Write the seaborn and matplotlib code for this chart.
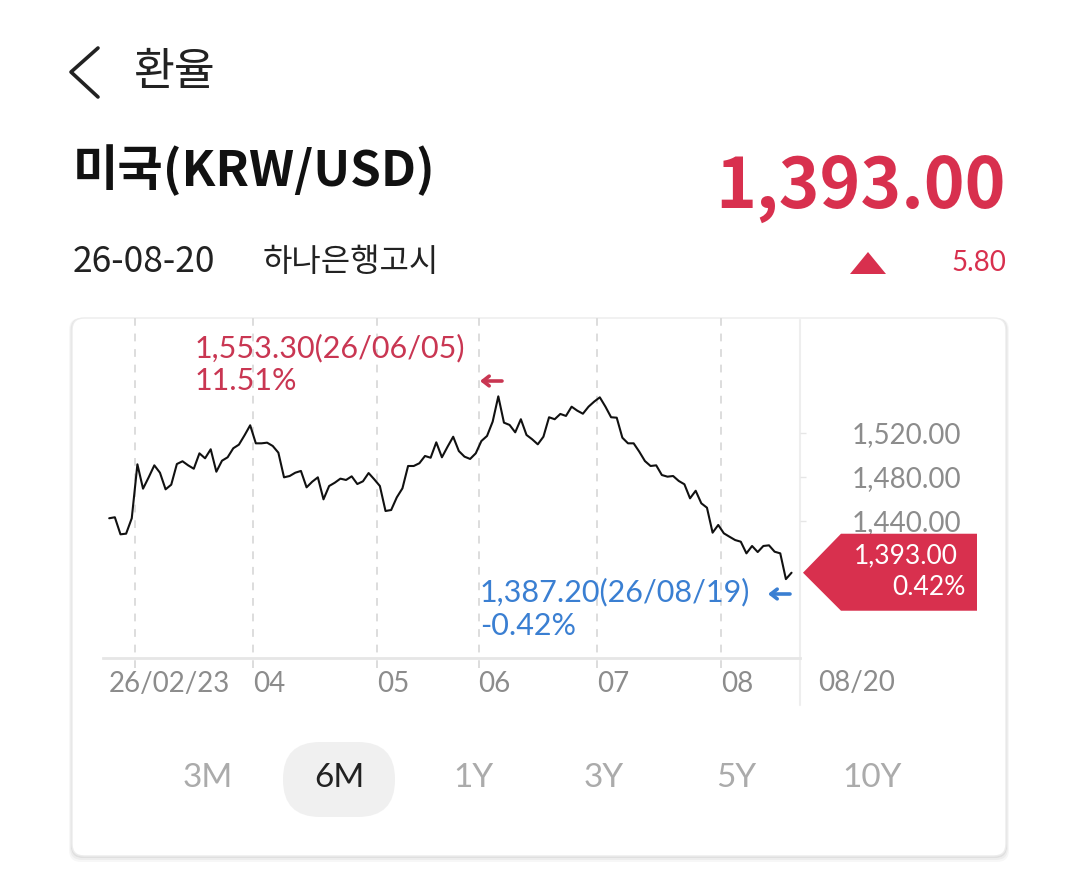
import matplotlib
matplotlib.use("Agg")
import matplotlib.pyplot as plt
from matplotlib.patches import FancyBboxPatch, Polygon
import numpy as np
import pandas as pd
import seaborn as sns

# KRW/USD daily rates, 26/02/23 .. 26/08/20 (trading-day index on x)
rates = [
    1442.5, 1443.4, 1427.9, 1428.5, 1442.5, 1491.5, 1469.4, 1479.7, 1490.6, 1483.9,
    1468.8, 1473.0, 1491.8, 1494.3, 1490.6, 1487.5, 1501.5, 1497.0, 1505.2, 1484.8,
    1494.8, 1497.9, 1506.1, 1509.4, 1517.9, 1527.0, 1510.6, 1510.6, 1511.2, 1508.2,
    1502.1, 1479.7, 1480.9, 1483.9, 1485.5, 1470.6, 1475.7, 1479.7, 1459.7, 1471.8,
    1474.8, 1478.5, 1477.3, 1480.6, 1473.6, 1476.1, 1483.6, 1477.9, 1471.8, 1449.1,
    1450.0, 1461.5, 1469.7, 1490.0, 1490.0, 1492.5, 1499.1, 1497.5, 1511.5, 1497.9,
    1507.5, 1516.6, 1503.6, 1498.5, 1496.4, 1501.5, 1512.7, 1517.3, 1530.3, 1553.3,
    1529.4, 1527.3, 1520.6, 1532.5, 1518.2, 1514.3, 1509.7, 1516.6, 1534.3, 1532.5,
    1537.3, 1535.5, 1543.9, 1540.3, 1537.5, 1543.9, 1548.5, 1552.4, 1543.9, 1534.3,
    1533.9, 1515.7, 1510.6, 1510.6, 1503.0, 1494.5, 1490.0, 1490.6, 1481.8, 1480.3,
    1480.9, 1476.4, 1473.4, 1460.6, 1467.5, 1456.1, 1452.1, 1429.4, 1436.4, 1428.8,
    1425.7, 1422.7, 1421.2, 1410.6, 1417.3, 1411.8, 1417.3, 1417.9, 1412.1, 1410.6,
    1387.2, 1393.0,
]
start_label = "26/02/23"
end_label = "08/20"
month_start_idx = [5, 26, 48, 66, 87, 109]      # first trading day of Mar..Aug
month_labels = ["", "04", "05", "06", "07", "08"]
peak_date = "26/06/05"
low_date = "26/08/19"
change = 5.80
yticks = [1440, 1480, 1520]
periods = ["3M", "6M", "1Y", "3Y", "5Y", "10Y"]
selected = "6M"

RED = "#d8304e"
RED_TXT = "#c93652"
BLUE = "#3a7fd2"
GREY_TXT = "#8c8c8c"

sns.set_style("white")
plt.rcParams["font.family"] = ["Lato", "Noto Sans CJK KR", "DejaVu Sans"]

W, H = 1079, 890
fig = plt.figure(figsize=(W / 100, H / 100), dpi=100)
fig.patch.set_facecolor("white")

# background / overlay layers in pixel units
bg = fig.add_axes([0, 0, 1, 1], zorder=0)
fg = fig.add_axes([0, 0, 1, 1], zorder=5)
for a in (bg, fg):
    a.set_xlim(0, W)
    a.set_ylim(H, 0)
    a.axis("off")
    a.patch.set_alpha(0)

# card with soft shadow
for off, alpha in [(6, 0.03), (4, 0.04), (2, 0.06)]:
    bg.add_patch(FancyBboxPatch((72 - off / 2, 318), 934 + off, 538 + off,
                                boxstyle="round,pad=0,rounding_size=12",
                                fc="black", ec="none", alpha=alpha))
bg.add_patch(FancyBboxPatch((72, 318), 934, 538, boxstyle="round,pad=0,rounding_size=12",
                            fc="white", ec="#ececec", lw=1))

# header
bg.plot([98, 71, 98], [48, 72, 97], color="#222222", lw=2.6, solid_capstyle="round")
bg.text(133, 72, "환율", fontsize=32, color="#222222", va="center",
        family=["Noto Sans CJK KR"])
bg.text(73, 170, "미국(KRW/USD)", fontsize=35.5, fontweight="bold", color="#111111",
        va="center", family=["Noto Sans CJK KR"])
bg.text(73, 262, "26-08-20", fontsize=25.5, color="#222222", va="center",
        family=["Noto Sans CJK KR"])
bg.text(263, 262, "하나은행고시", fontsize=23, color="#222222", va="center",
        family=["Noto Sans CJK KR"])
bg.text(1006, 188, f"{rates[-1]:,.2f}", fontsize=50, fontweight="bold", color=RED,
        ha="right", va="center", family=["Noto Sans CJK KR"])
bg.add_patch(Polygon([(850, 274), (886, 274), (868, 252)], closed=True, fc=RED, ec="none"))
bg.text(1006, 263, f"{change:.2f}", fontsize=20, color=RED, ha="right", va="center")

# chart
ax = fig.add_axes([103 / W, 1 - 658 / H, (800 - 103) / W, (658 - 318) / H], zorder=2)
ax.patch.set_alpha(0)
df = pd.DataFrame({"idx": np.arange(len(rates)), "rate": rates})
sns.lineplot(data=df, x="idx", y="rate", ax=ax, color="#111111", linewidth=1.5,
             estimator=None, zorder=3)
ax.set_xlim(-1.1, 122.5)
ax.set_ylim(1315.5, 1624.5)
ax.set_xlabel("")
ax.set_ylabel("")

# dashed month boundaries, running a little below the baseline
grid_pos = [m - 0.5 for m in month_start_idx]
for g in grid_pos:
    ax.axvline(g, ymin=-0.03, ymax=1, color="#dddddd", lw=1.4, ls=(0, (4, 4)),
               clip_on=False, zorder=1)
ax.grid(False)
ax.set_xticks([0] + grid_pos[1:])
ax.set_xticklabels([start_label] + month_labels[1:], ha="left")
ax.tick_params(axis="x", which="major", length=0, pad=9, labelsize=20, labelcolor=GREY_TXT)

ax.yaxis.tick_right()
ax.set_yticks(yticks)
ax.set_yticklabels([f"{v:,.2f}" for v in yticks])
ax.tick_params(axis="y", length=4.5, width=1, color="#e6e6e6", pad=33,
               labelsize=20, labelcolor=GREY_TXT)
for s in ["top", "left", "right"]:
    ax.spines[s].set_visible(False)
ax.spines["bottom"].set_color("#e6e6e6")
ax.spines["bottom"].set_linewidth(2)

bg.plot([800, 800], [320, 705], color="#eeeeee", lw=1.5)
bg.text(818, 683, end_label, fontsize=20, color=GREY_TXT, va="center")

# max / min annotations
last = rates[-1]
hi, lo = max(rates), min(rates)
arrow = dict(arrowstyle="->,head_length=0.45,head_width=0.35", lw=2.6,
             shrinkA=0, shrinkB=0, capstyle="round")
fg.text(195, 348, f"{hi:,.2f}({peak_date})", fontsize=22, color=RED_TXT, va="center")
fg.text(195, 381, f"{(hi / last - 1) * 100:.2f}%", fontsize=22, color=RED_TXT, va="center")
fg.annotate("", xy=(480, 381), xytext=(502, 381), arrowprops=dict(arrow, color=RED_TXT))
fg.text(480, 592, f"{lo:,.2f}({low_date})", fontsize=22, color=BLUE, va="center")
fg.text(480, 626, f"{(lo / last - 1) * 100:.2f}%", fontsize=22, color=BLUE, va="center")
fg.annotate("", xy=(768, 594), xytext=(790, 594), arrowprops=dict(arrow, color=BLUE))

# current-value callout, tip level with the last point
tip_y = fg.transData.inverted().transform(ax.transData.transform((0, last)))[1]
fg.add_patch(Polygon([(803, tip_y), (841, tip_y - 39), (977, tip_y - 39),
                      (977, tip_y + 38), (841, tip_y + 38)], closed=True, fc=RED, ec="none"))
fg.text(958, tip_y - 17, f"{last:,.2f}", fontsize=19, color="white", ha="right", va="center")
fg.text(966, tip_y + 15, f"{(last / lo - 1) * 100:.2f}%", fontsize=19, color="white",
        ha="right", va="center")

# period buttons
btn_x = [208, 339, 473, 604, 736, 872]
for p, bx in zip(periods, btn_x):
    if p == selected:
        bg.add_patch(FancyBboxPatch((bx - 56, 742), 112, 75,
                                    boxstyle="round,pad=0,rounding_size=37",
                                    fc="#f0f0f0", ec="none"))
    bg.text(bx, 778, p, fontsize=24, ha="center", va="center",
            color="#222222" if p == selected else "#ababab")

fig.savefig("out.png", dpi=100, facecolor="white")
